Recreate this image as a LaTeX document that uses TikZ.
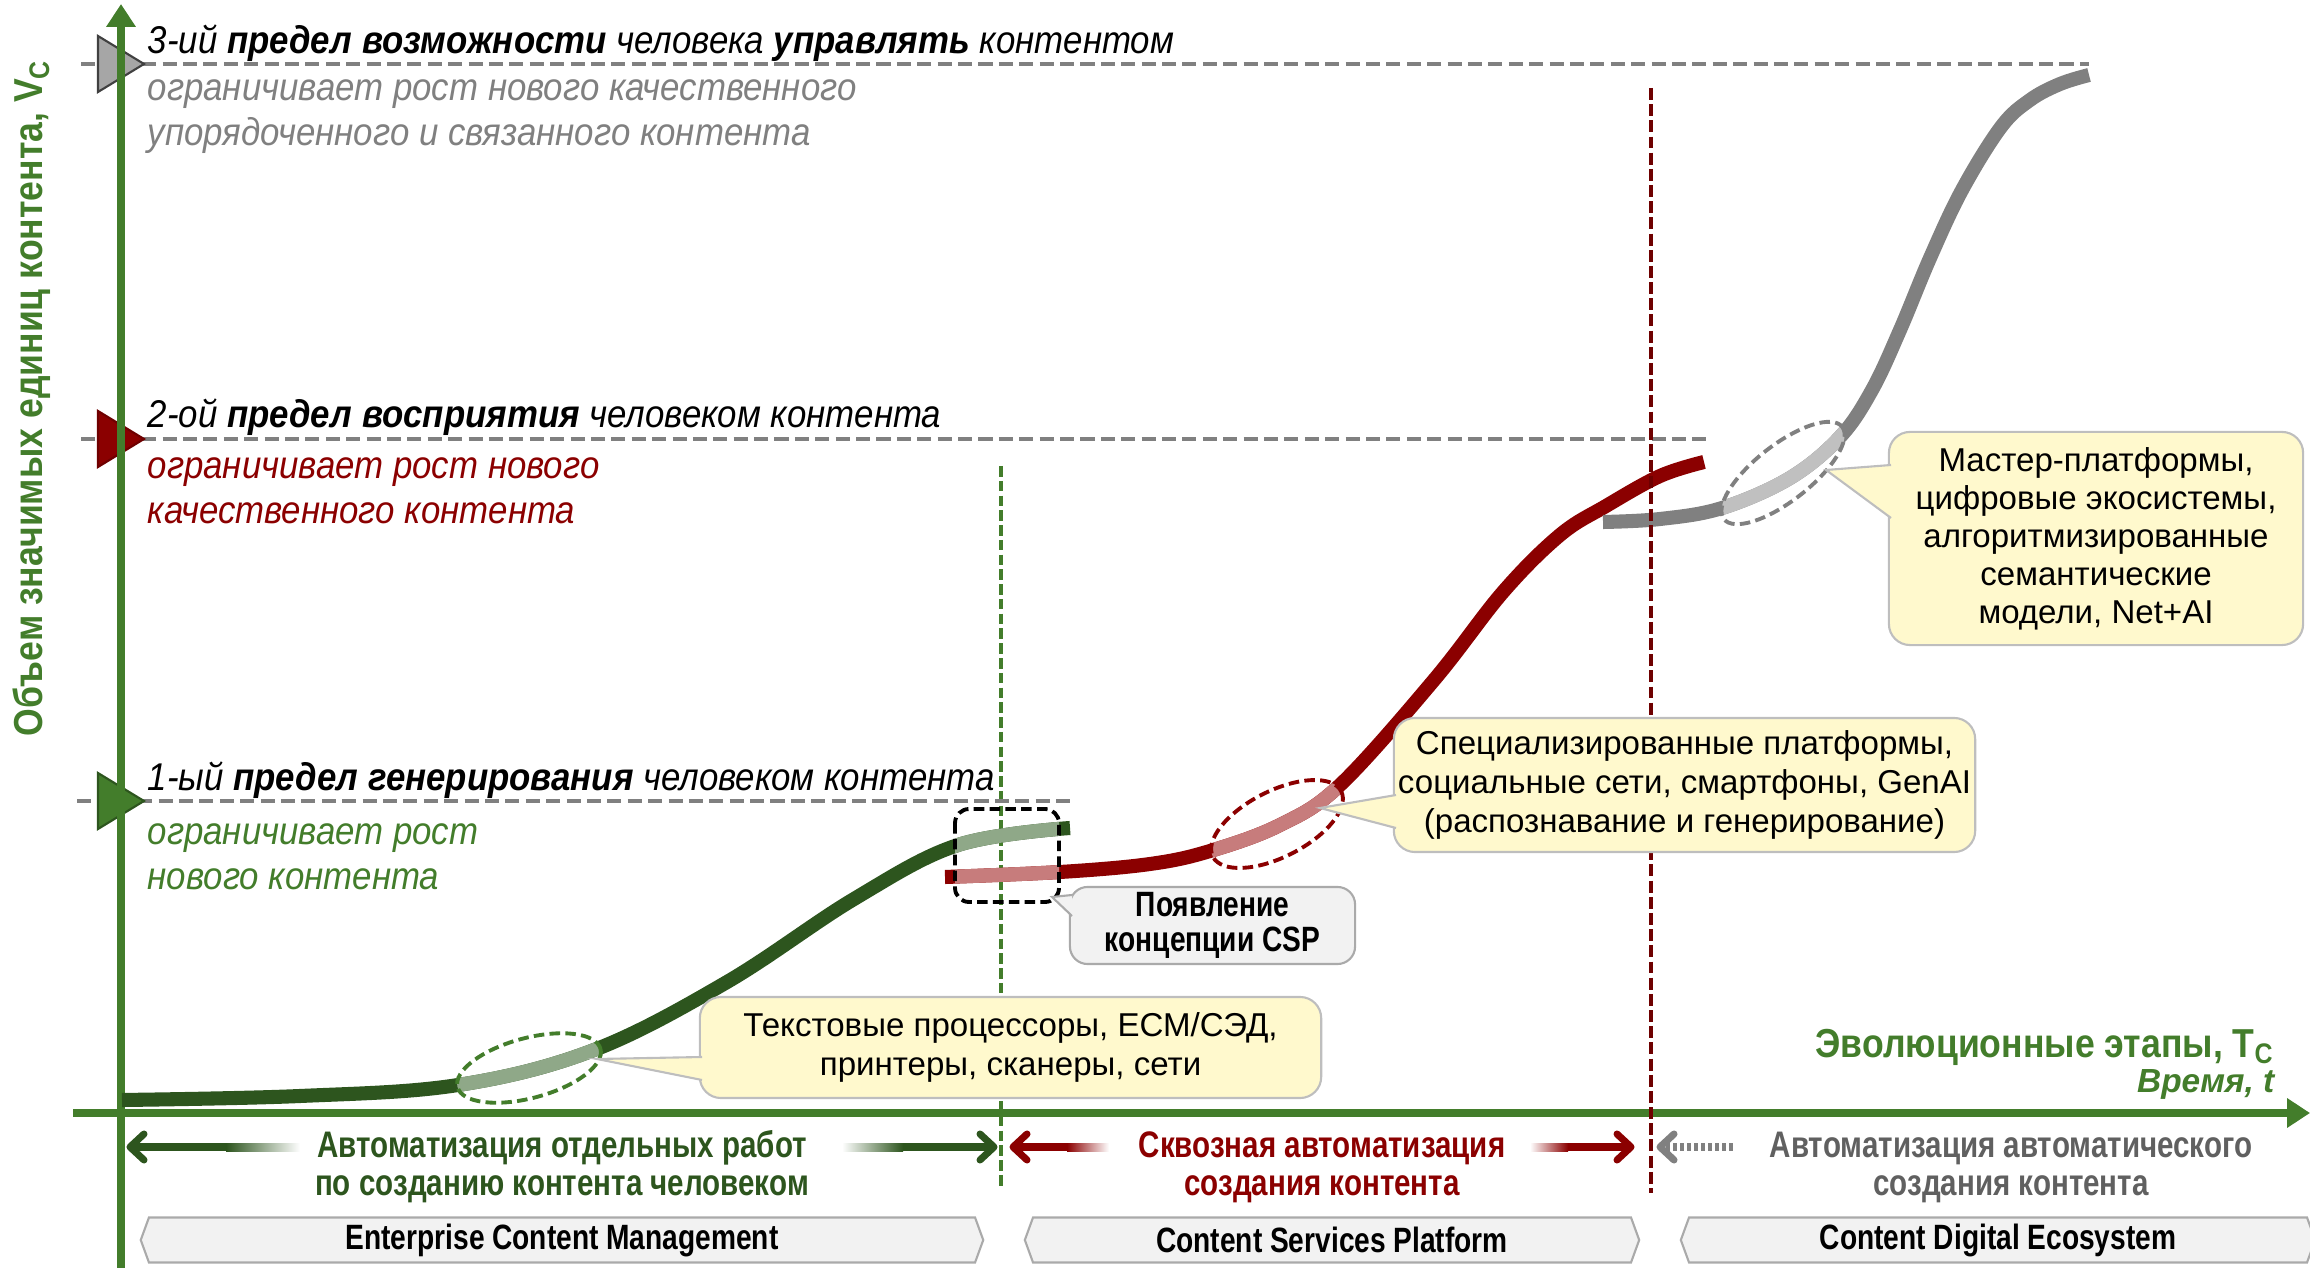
\documentclass[tikz,border=0pt]{standalone}
\usepackage{fontspec}
\setmainfont{Liberation Sans}
\newfontfamily\narrowfont{Liberation Sans}[FakeStretch=0.8]
\newfontfamily\axisfont{Liberation Sans}[FakeStretch=0.88]
\newfontfamily\limitfont{Liberation Sans}[FakeStretch=0.9]
\usetikzlibrary{arrows.meta,shapes.symbols}

\definecolor{axisgreen}{RGB}{67,125,43}
\definecolor{ecmgreen}{RGB}{45,85,30}
\definecolor{ecmpale}{RGB}{143,168,136}
\definecolor{cspred}{RGB}{139,0,0}
\definecolor{csppale}{RGB}{199,124,124}
\definecolor{borderred}{RGB}{110,0,0}
\definecolor{cdegray}{RGB}{128,128,128}
\definecolor{cdepale}{RGB}{192,192,192}
\definecolor{notefill}{RGB}{255,249,205}
\definecolor{noteline}{RGB}{190,190,190}
\definecolor{stagefill}{RGB}{242,242,242}
\definecolor{stageline}{RGB}{170,170,170}
\definecolor{darktext}{RGB}{96,96,96}

% growth curves of the three stages
\newcommand{\ecmcurve}{plot[smooth, tension=0.6] coordinates {(122,1100) (300,1096) (458,1085) (594,1050) (727,982) (854,899) (958,845) (1070,828)}}
\newcommand{\cspcurve}{plot[smooth, tension=0.6] coordinates {(945,877) (1060,872) (1150,864) (1210,851) (1280,825) (1340,785) (1434,680) (1503,592) (1560,535) (1606,506) (1660,476) (1704,462)}}
\newcommand{\cdecurve}{plot[smooth, tension=0.6] coordinates {(1603,522) (1660,519) (1722,508) (1790,478) (1840,437) (1872,390) (1900,330) (1930,258) (1962,190) (2001,127) (2030,100) (2060,84) (2089,75)}}

\tikzset{
  axisline/.style={axisgreen, line width=2.1pt},
  limitline/.style={cdegray, line width=1.3pt, dash pattern=on 4pt off 1.8pt},
  marker/.style={line width=0.6pt, line join=miter},
  curve/.style={line width=4pt},
  lens/.style={line width=1.1pt, dash pattern=on 3pt off 1.5pt},
  limittitle/.style={anchor=west, inner sep=0pt, font=\limitfont\fontsize{11}{13}\selectfont\itshape},
  limitnote/.style={anchor=west, align=left, inner sep=0pt, font=\limitfont\fontsize{11}{12.8}\selectfont\itshape},
  note/.style={draw=noteline, fill=notefill, line width=0.6pt, rounded corners=6pt, align=center, inner sep=0pt, font=\fontsize{9.4}{11}\selectfont},
  notetip/.style={draw=noteline, line width=0.6pt},
  stage/.style={signal, signal to=west and east, signal pointer angle=140, draw=stageline, fill=stagefill, line width=0.6pt, minimum height=0.45cm, inner sep=0pt, font=\narrowfont\bfseries\fontsize{10}{12}\selectfont},
  phase/.style={align=center, inner sep=0pt, font=\narrowfont\bfseries\fontsize{10.5}{10.8}\selectfont},
  barb/.style={line width=2pt, line cap=round, line join=round},
}

\begin{document}
\begin{tikzpicture}[x=0.01cm, y=-0.01cm]
    \useasboundingbox (0,0) rectangle (2310,1268);

    % Stage borders
    \coordinate (ecmtop) at (1001,466);
    \coordinate (ecmbot) at (1001,1187);
    \draw[axisgreen, line width=0.9pt, dash pattern=on 3pt off 1.2pt] (ecmtop) -- (ecmbot);

    % Limits
    \coordinate (lim3a) at (81,64);   \coordinate (lim3b) at (2089,64);
    \coordinate (lim2a) at (81,439);  \coordinate (lim2b) at (1709,439);
    \coordinate (lim1a) at (77,801);  \coordinate (lim1b) at (1073,801);
    \draw[limitline] (lim3a) -- (lim3b);
    \draw[limitline] (lim2a) -- (lim2b);
    \draw[limitline] (lim1a) -- (lim1b);
    \coordinate (lim3) at (144,64);
    \coordinate (lim2) at (144,439);
    \coordinate (lim1) at (144,801);
    \draw[marker, fill=cdegray!70, draw=black!75] (lim3) -- ++(-46,-28) -- ++(0,56) -- cycle;
    \draw[marker, fill=cspred, draw=borderred] (lim2) -- ++(-46,-28) -- ++(0,56) -- cycle;
    \draw[marker, fill=axisgreen, draw=ecmgreen] (lim1) -- ++(-46,-28) -- ++(0,56) -- cycle;

    % Axes
    \coordinate (ybot) at (121,1268);
    \coordinate (ytop) at (121,4);
    \coordinate (xstart) at (73,1113);
    \coordinate (xend) at (2310,1113);
    \draw[axisline, -{Triangle[length=6.5pt, width=8pt]}] (ybot) -- (ytop);
    \draw[axisline, -{Triangle[length=6.5pt, width=8pt]}] (xstart) -- (xend);
    \node[rotate=90, inner sep=0pt, axisgreen, font=\axisfont\bfseries\fontsize{11.5}{13}\selectfont] (ylabel) at (32,398) {Объем значимых единиц контента, V\textsubscript{C}};
    \node[anchor=east, inner sep=0pt, axisgreen, font=\axisfont\bfseries\fontsize{11.5}{13}\selectfont] (xlabel) at (2275,1047) {Эволюционные этапы, T\textsubscript{C}};
    \node[anchor=east, inner sep=0pt, axisgreen, font=\bfseries\itshape\fontsize{9.5}{11}\selectfont] (tlabel) at (2275,1084) {Время, t};

    % Limit texts
    \node[limittitle] (title3) at (147,43) {3-ий \textbf{предел возможности} человека \textbf{управлять} контентом};
    \node[limitnote, cdegray] (note3) at (147,117) {ограничивает рост нового качественного\\упорядоченного и связанного контента};
    \node[limittitle] (title2) at (147,417) {2-ой \textbf{предел восприятия} человеком контента};
    \node[limitnote, cspred] (note2) at (147,491) {ограничивает рост нового\\качественного контента};
    \node[limittitle] (title1) at (147,780) {1-ый \textbf{предел генерирования} человеком контента};
    \node[limitnote, axisgreen] (note1) at (147,857) {ограничивает рост\\нового контента};

    % Curves
    \draw[curve, ecmgreen] \ecmcurve;
    \draw[curve, cspred] \cspcurve;
    \draw[curve, cdegray] \cdecurve;

    % Highlighted technologies
    \coordinate (ecmlens) at (529,1068);
    \coordinate (csplens) at (1277,824);
    \coordinate (cdelens) at (1783,473);
    \begin{scope}
      \clip[rotate around={15:(ecmlens)}] (ecmlens) ellipse [x radius=74, y radius=30];
      \draw[curve, ecmpale] \ecmcurve;
    \end{scope}
    \begin{scope}
      \clip[rotate around={27:(csplens)}] (csplens) ellipse [x radius=72, y radius=33];
      \draw[curve, csppale] \cspcurve;
    \end{scope}
    \begin{scope}
      \clip[rotate around={38:(cdelens)}] (cdelens) ellipse [x radius=75, y radius=28];
      \draw[curve, cdepale] \cdecurve;
    \end{scope}
    \draw[lens, axisgreen, rotate around={15:(ecmlens)}] (ecmlens) ellipse [x radius=74, y radius=30];
    \draw[lens, cspred, rotate around={27:(csplens)}] (csplens) ellipse [x radius=72, y radius=33];
    \draw[lens, cdegray, rotate around={38:(cdelens)}] (cdelens) ellipse [x radius=75, y radius=28];

    % CSP transition
    \coordinate (cspa) at (955,809);
    \coordinate (cspb) at (1059,902);
    \begin{scope}
      \clip[rounded corners=4pt] (cspa) rectangle (cspb);
      \draw[curve, ecmpale] \ecmcurve;
      \draw[curve, csppale] \cspcurve;
    \end{scope}
    \draw[lens, black, rounded corners=4pt] (cspa) rectangle (cspb);

    \coordinate (cdetop) at (1651,88);
    \coordinate (cdebot) at (1651,1193);
    \draw[borderred, line width=1pt, dash pattern=on 3.4pt off 1.2pt] (cdetop) -- (cdebot);

    % Callouts
    \node[note, minimum width=6.21cm, minimum height=1.01cm] (ecmnote) at (1010.5,1047.5) {Текстовые процессоры, ЕСМ/СЭД,\\принтеры, сканеры, сети};
    \coordinate (ecmtip) at (597,1059);
    \coordinate (ecmb1) at (702,1057);
    \coordinate (ecmb2) at (702,1080);
    \fill[notefill] (ecmb1) -- (ecmtip) -- (ecmb2) -- cycle;
    \draw[notetip] (ecmb1) -- (ecmtip) -- (ecmb2);

    \node[note, minimum width=5.81cm, minimum height=1.34cm] (cspnote) at (1684.5,785) {Специализированные платформы,\\социальные сети, смартфоны, GenAI\\(распознавание и генерирование)};
    \coordinate (csptip) at (1320,808);
    \coordinate (cspb1) at (1396,795);
    \coordinate (cspb2) at (1396,828);
    \fill[notefill] (cspb1) -- (csptip) -- (cspb2) -- cycle;
    \draw[notetip] (cspb1) -- (csptip) -- (cspb2);

    \node[note, minimum width=4.14cm, minimum height=2.13cm, font=\fontsize{9.4}{10.8}\selectfont] (cdenote) at (2096,538.5) {Мастер-платформы,\\цифровые экосистемы,\\алгоритмизированные\\семантические\\модели, Net+AI};
    \coordinate (cdetip) at (1826,470);
    \coordinate (cdeb1) at (1891,465);
    \coordinate (cdeb2) at (1891,518);
    \fill[notefill] (cdeb1) -- (cdetip) -- (cdeb2) -- cycle;
    \draw[notetip] (cdeb1) -- (cdetip) -- (cdeb2);

    \node[note, fill=stagefill, draw=stageline, rounded corners=5pt, minimum width=2.85cm, minimum height=0.77cm, font=\narrowfont\bfseries\fontsize{10}{10}\selectfont] (csponote) at (1212.5,925.5) {Появление\\концепции CSP};
    \coordinate (csptip2) at (1052,897);
    \coordinate (cspc1) at (1072,895);
    \coordinate (cspc2) at (1072,916);
    \fill[stagefill] (cspc1) -- (csptip2) -- (cspc2) -- cycle;
    \draw[notetip, stageline] (cspc1) -- (csptip2) -- (cspc2);

    % Phases
    \node[phase, ecmgreen] (ecmphase) at (562,1167) {Автоматизация отдельных работ\\по созданию контента человеком};
    \node[phase, cspred] (cspphase) at (1322,1167) {Сквозная автоматизация\\создания контента};
    \node[phase, darktext] (cdephase) at (2011,1167) {Автоматизация автоматического\\создания контента};

    \coordinate (ecmleft) at (130,1147);
    \coordinate (ecmright) at (994,1147);
    \fill[ecmgreen] (134,1143) rectangle (226,1151);
    \shade[left color=ecmgreen, right color=white] (226,1143) rectangle (300,1151);
    \shade[left color=white, right color=ecmgreen] (842,1143) rectangle (903,1151);
    \fill[ecmgreen] (903,1143) rectangle (990,1151);
    \draw[barb, ecmgreen] (ecmleft) ++(14,-13) -- (ecmleft) -- ++(14,13);
    \draw[barb, ecmgreen] (ecmright) ++(-14,-13) -- (ecmright) -- ++(-14,13);

    \coordinate (cspleft) at (1013,1147);
    \coordinate (cspright) at (1631,1147);
    \fill[cspred] (1017,1143) rectangle (1067,1151);
    \shade[left color=cspred, right color=white] (1067,1143) rectangle (1109,1151);
    \shade[left color=white, right color=cspred] (1530,1143) rectangle (1568,1151);
    \fill[cspred] (1568,1143) rectangle (1627,1151);
    \draw[barb, cspred] (cspleft) ++(14,-13) -- (cspleft) -- ++(14,13);
    \draw[barb, cspred] (cspright) ++(-14,-13) -- (cspright) -- ++(-14,13);

    \coordinate (cdeleft) at (1660,1147);
    \coordinate (cdedots) at (1735,1147);
    \draw[cdegray, line width=2.2pt, dash pattern=on 1pt off 1pt] (cdeleft) ++(6,0) -- (cdedots);
    \draw[barb, cdegray] (cdeleft) ++(14,-13) -- (cdeleft) -- ++(14,13);

    % Stages
    \node[stage, minimum width=8.42cm] (ecm) at (562,1240) {Enterprise Content Management};
    \node[stage, minimum width=6.14cm] (csp) at (1332,1240) {Content Services Platform};
    \node[stage, minimum width=6.34cm] (cde) at (1998,1240) {Content Digital Ecosystem};
\end{tikzpicture}
\end{document}
